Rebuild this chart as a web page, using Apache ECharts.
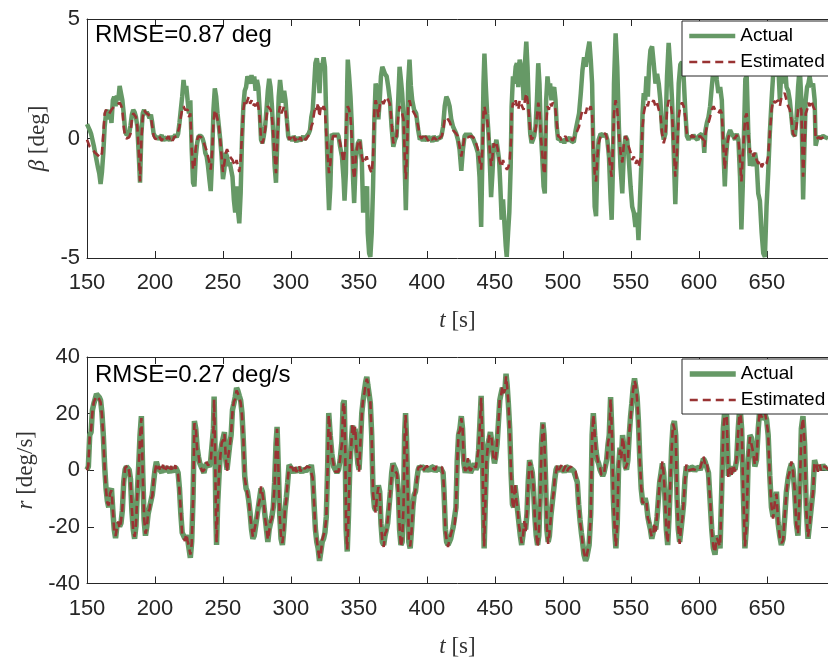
<!DOCTYPE html>
<html>
<head>
<meta charset="utf-8">
<script src="https://cdn.jsdelivr.net/npm/echarts@6/dist/echarts.min.js"></script>
<style>
html,body{margin:0;padding:0;background:#fff;}
#chart{width:828px;height:659px;}
</style>
</head>
<body>
<div id="chart"></div>
<script>
// ---------- data ----------
const xTickMin = 150, xTickMax = 695, xTickStep = 50;
const betaTicks = [-5, 0, 5];
const rTicks = [-40, -20, 0, 20, 40];
const seriesNames = ['Actual', 'Estimated'];
const rmseTexts = ['RMSE=0.87 deg', 'RMSE=0.27 deg/s'];

const betaActual = [[150,0.6],[151,0.55],[152,0.35],[153,0.2],[154,-0.05],[155,-0.3],[156,-0.6],[157,-0.9],[158,-1.2],[159,-1.45],[160,-1.9],[161,-1.4],[162,-0.6],[163,0.5],[164,1.05],[165,1.2],[166,0.8],[167,1.2],[168,0.65],[169,1.6],[170,1.75],[171,1.35],[172,1.8],[173,1.6],[174,2.2],[175,1.9],[176,1.6],[177,1.05],[178,0.35],[179,0.15],[180,0.1],[181,0.2],[182,0.55],[183,1.0],[184,1.2],[185,1.1],[186,0.9],[187,0.5],[188,-0.6],[189,-1.85],[190,0.2],[191,1.05],[192,1.2],[193,1.0],[194,1.1],[195,1.0],[196,0.85],[197,1.0],[198,0.65],[199,0.2],[200,0.1],[201,0.0],[202,0.1],[203,-0.05],[204,0.05],[205,0.15],[206,-0.1],[207,0.05],[208,0.1],[209,-0.05],[210,0.05],[211,-0.1],[212,0.1],[213,0.0],[214,-0.05],[215,0.15],[216,0.05],[217,0.2],[218,0.65],[219,1.2],[220,1.75],[221,2.45],[222,1.9],[223,2.2],[224,1.6],[225,1.05],[226,1.6],[227,-0.45],[228,-1.85],[229,-2.0],[230,-0.75],[231,-0.2],[232,0.1],[233,0.15],[234,0.1],[235,0.0],[236,-0.2],[237,-0.6],[238,-0.75],[239,-1.15],[240,-1.7],[241,-2.2],[242,-0.9],[243,1.2],[244,2.1],[245,1.75],[246,1.05],[247,0.5],[248,-0.05],[249,-0.75],[250,-1.7],[251,-1.3],[252,-0.6],[253,-0.75],[254,-1.15],[255,-1.0],[256,-1.3],[257,-1.6],[258,-2.55],[259,-3.1],[260,-2.0],[261,-3.0],[262,-3.55],[263,-2.3],[264,-0.05],[265,1.35],[266,2.0],[267,2.15],[268,2.6],[269,2.65],[270,2.3],[271,2.65],[272,2.3],[273,2.6],[274,2.0],[275,2.45],[276,2.15],[277,1.2],[278,-0.05],[279,-0.2],[280,0.1],[281,0.5],[282,1.2],[283,2.0],[284,2.5],[285,2.15],[286,1.35],[287,0.2],[288,-1.15],[289,-1.85],[290,-0.05],[291,1.75],[292,2.45],[293,1.9],[294,1.5],[295,2.0],[296,1.6],[297,0.8],[298,0.1],[299,-0.05],[300,0.05],[301,-0.1],[302,0.1],[303,0.0],[304,-0.15],[305,0.05],[306,0.1],[307,-0.1],[308,0.0],[309,0.1],[310,-0.05],[311,0.05],[312,0.0],[313,0.2],[314,0.35],[315,0.9],[316,1.2],[317,2.15],[318,3.15],[319,3.35],[320,3.0],[321,1.9],[322,3.15],[323,3.0],[324,3.4],[325,3.0],[326,0.8],[327,-1.45],[328,-3.0],[329,-2.0],[330,0.2],[331,0.1],[332,0.2],[333,0.1],[334,0.2],[335,0.1],[336.2,-0.35],[337.5,-0.75],[338.7,-1.7],[339.4,-2.6],[340.4,-1.45],[341.4,2.3],[341.8,3.3],[342.8,2.6],[343.8,1.75],[344.8,0.5],[345.7,-1.7],[346.5,-2.7],[347.7,-0.9],[349.2,-0.2],[350.6,-0.05],[352.1,-0.9],[353.1,-3.1],[354,-2.0],[355,-2.4],[356,-2.0],[356.5,-3.95],[357.5,-4.8],[358.4,-4.95],[359.4,-3.95],[360.4,-2.0],[361.4,0.9],[362.3,2.3],[363.3,2.05],[364.3,0.8],[365.3,1.6],[366.2,2.6],[367.2,3.0],[368.2,2.85],[369.2,2.7],[370.4,2.6],[371.6,2.15],[372.8,1.6],[374,0.5],[375.3,-0.35],[376.5,-0.05],[377.7,0.1],[378.9,1.6],[379.9,3.0],[380.9,2.45],[381.8,1.9],[382.8,0.9],[383.8,-1.45],[384.5,-3.0],[385.5,-0.5],[386.2,2.3],[387.2,3.3],[388.2,2.2],[389.2,1.6],[390.6,1.2],[392.1,1.05],[393.6,0.35],[394.8,-0.05],[396,0.05],[397,-0.1],[398,0.1],[399,0.0],[400,-0.1],[401,0.1],[402,-0.05],[403,0.05],[404,-0.15],[405,0.1],[406,0.0],[407,-0.1],[408,0.05],[409,0.1],[410,0.0],[411,0.2],[411.9,0.5],[413.1,1.35],[414.3,1.75],[415.5,1.6],[416.7,1.35],[417.9,0.8],[419.2,0.5],[420.4,0.35],[421.6,0.2],[422.8,-0.05],[424,-0.45],[425.3,-1.35],[426.5,-0.45],[427.7,0.1],[428.9,0.2],[430.1,0.1],[431.4,0.2],[432.6,0.1],[434,0.0],[435,-0.05],[436.2,-0.35],[437.5,-0.6],[438.7,-1.6],[439.9,-3.7],[440.9,-0.45],[441.6,2.3],[442.3,3.55],[443.3,2.2],[444.3,1.05],[445.3,0.2],[446.2,-0.9],[447.2,-2.45],[448.2,-1.45],[449.2,-0.2],[450.1,-0.35],[451.1,-0.05],[452.1,-0.45],[453.1,-0.9],[454,-2.0],[455,-3.4],[456,-2.55],[457,-3.55],[458,-4.5],[458.7,-4.95],[459.7,-3.95],[460.6,-3.1],[461.6,-1.2],[462.3,1.35],[463.3,2.6],[464.3,2.3],[465.3,3.0],[466.2,3.15],[467.2,2.15],[468.2,3.3],[469.2,3.0],[470.2,2.85],[471.1,1.6],[472.1,3.15],[473.1,4.05],[474,3.0],[475,1.2],[476,0.2],[477,-0.2],[478,-0.05],[478.9,0.1],[479.9,0.5],[480.9,1.6],[481.9,3.15],[482.8,2.3],[483.8,0.2],[484.8,-0.75],[485.8,-2.0],[486.7,-2.3],[487.7,1.6],[488.7,2.6],[489.7,2.0],[490.6,2.3],[491.6,1.6],[492.6,2.0],[493.6,2.15],[494.6,1.6],[495.5,0.5],[496.5,-0.05],[498,0.0],[499,-0.15],[500,-0.05],[501,-0.2],[502,0.0],[503,-0.1],[504,-0.15],[505,0.05],[506,-0.1],[507,-0.05],[508,-0.15],[509.4,0.35],[510.7,0.4],[511.9,1.05],[513.2,1.9],[514.4,2.85],[515.6,3.4],[516.8,3.0],[518,3.55],[519.5,4.05],[520.5,3.3],[521.5,2.3],[522.4,-0.5],[523.4,-2.85],[524.4,-3.25],[525.4,-0.9],[526.3,-0.05],[527.8,0.2],[529,0.2],[530.2,0.1],[531.5,0.2],[532.7,-0.05],[533.9,-0.75],[535.1,-2.55],[535.9,-3.4],[536.8,-1.2],[537.6,2.3],[538.8,4.4],[540,3.0],[541.2,0.5],[542.4,-1.2],[543.7,-2.3],[544.9,-0.5],[546.1,0.1],[547.3,-0.05],[548.5,-0.9],[549.8,-2.0],[551,-2.85],[552.2,-3.1],[553.4,-3.7],[554.6,-3.1],[555.6,-4.25],[556.6,-4.2],[557.6,-1.2],[558.6,1.05],[559.5,1.9],[560.5,1.6],[561.5,2.6],[562.5,1.75],[563.4,3.0],[564.4,3.7],[565.6,3.85],[566.8,3.15],[568.1,2.3],[569.3,2.7],[570.5,2.3],[571.7,1.6],[573,0.35],[574.2,-0.05],[575.4,0.2],[576.6,2.6],[577.8,4.0],[579,3.0],[580.3,1.6],[581.5,-0.5],[582.7,-2.75],[583.9,-0.5],[585.2,2.3],[586.4,3.1],[587.6,3.2],[588.8,2.6],[590,1.2],[591.2,0.1],[592.5,-0.05],[594,0.1],[595,0.0],[596,0.15],[597,0.05],[598,0.1],[599,-0.05],[600,0.1],[601,0.05],[602.2,0.2],[603.4,-0.05],[604,-0.6],[604.9,0.35],[605.9,0.65],[607.1,0.9],[608.3,1.35],[609.5,2.15],[610.8,2.9],[612,3.3],[613.2,2.45],[614.4,1.9],[615.7,2.15],[616.9,1.6],[618.1,-0.5],[619.1,-2.0],[620,-0.75],[621,-0.05],[622,0.2],[623,0.35],[624.2,0.2],[625.4,0.1],[626.6,-0.05],[627.9,0.2],[629.1,-0.05],[630.3,-1.6],[631.3,-3.8],[632.3,-2.0],[633.2,0.2],[634.2,2.5],[635.2,2.6],[636.4,0.2],[637.6,-1.15],[638.8,-0.75],[640.1,-1.15],[641.3,-0.6],[642.5,-1.0],[643.7,-2.3],[644.9,-2.6],[646.2,-3.95],[647.4,-4.8],[648.6,-4.95],[649.8,-2.85],[651,-1.45],[652.2,0.2],[653.5,1.6],[654.7,2.7],[655.9,3.3],[657.1,2.6],[658.4,3.1],[659.6,1.6],[660.8,3.0],[662,2.3],[663.2,3.2],[664.5,2.15],[665.7,2.0],[666.9,1.6],[668.1,0.9],[669.3,0.2],[670.6,0.1],[671.8,0.8],[673,2.15],[674.2,3.0],[675.4,1.6],[676.7,-2.55],[677.6,-0.45],[678.6,1.6],[679.6,2.15],[680.6,2.3],[681.5,2.6],[682.7,2.15],[684,2.3],[685.2,1.6],[685.9,-0.3],[686.9,-0.05],[688,0.1],[689,0.0],[690,0.05],[691.3,0.1],[693,0.05],[695,0.0]];

const betaEstimated = [[150,-0.05],[151,-0.2],[152,-0.35],[153,-0.4],[154,-0.45],[155,-0.5],[156,-0.6],[157,-0.65],[158,-0.7],[159,-0.75],[160,-0.8],[161,-0.6],[162,0.2],[163,1.05],[164,1.2],[165,1.1],[166,1.0],[167,1.1],[168,1.2],[169,1.25],[170,1.35],[171,1.3],[172,1.4],[173,1.35],[174,1.5],[175,1.4],[176,1.2],[177,0.5],[178,0.1],[179,0.0],[180,-0.05],[181,0.05],[182,0.2],[183,0.8],[184,1.05],[185,1.0],[186,0.9],[187,0.5],[188,-0.45],[189,-1.8],[190,-0.05],[191,0.9],[192,1.2],[193,1.1],[194,1.05],[195,1.0],[196,1.0],[197,0.9],[198,0.5],[199,0.1],[200,0.0],[201,0.05],[202,-0.05],[203,0.1],[204,0.0],[205,-0.1],[206,0.05],[207,0.1],[208,-0.05],[209,0.0],[210,0.1],[211,-0.05],[212,0.05],[213,-0.1],[214,0.05],[215,0.0],[216,0.1],[217,0.1],[218,0.5],[219,0.9],[220,1.2],[221,1.35],[222,1.2],[223,1.25],[224,1.2],[225,0.9],[226,1.05],[227,-0.45],[228,-1.3],[229,-1.15],[230,-0.35],[231,-0.05],[232,0.1],[233,0.1],[234,0.05],[235,0.1],[236,-0.2],[237,-0.35],[238,-0.5],[239,-0.75],[240,-1.0],[241,-1.3],[242,-0.6],[243,0.65],[244,1.2],[245,1.05],[246,0.8],[247,0.5],[248,-0.05],[249,-0.75],[250,-1.4],[251,-1.05],[252,-0.6],[253,-0.45],[254,-0.6],[255,-0.75],[256,-0.75],[257,-0.9],[258,-1.05],[259,-1.15],[260,-0.9],[261,-1.15],[262,-1.4],[263,-0.9],[264,0.2],[265,1.2],[266,1.6],[267,1.45],[268,1.6],[269,1.75],[270,1.45],[271,1.6],[272,1.35],[273,1.45],[274,1.35],[275,1.6],[276,1.35],[277,0.9],[278,-0.05],[279,-0.2],[280,0.0],[281,0.35],[282,0.9],[283,1.35],[284,1.35],[285,1.2],[286,0.9],[287,0.2],[288,-0.75],[289,-1.45],[290,-0.05],[291,1.05],[292,1.35],[293,1.05],[294,1.2],[295,1.35],[296,1.2],[297,0.65],[298,0.1],[299,-0.05],[300,0.05],[301,-0.05],[302,0.1],[303,-0.1],[304,0.0],[305,0.1],[306,-0.05],[307,0.05],[308,-0.1],[309,0.05],[310,0.1],[311,-0.05],[312,0.05],[313,0.1],[314,0.2],[315,0.5],[316,0.65],[317,1.05],[318,1.35],[319,1.2],[320,1.5],[321,0.9],[322,1.35],[323,1.2],[324,1.35],[325,1.2],[326,0.2],[327,-0.75],[328,-1.45],[329,-1.05],[330,-0.2],[331,0.1],[332,0.15],[333,0.1],[334,0.15],[335,0.1],[336.2,-0.2],[337.5,-0.6],[338.7,-1.0],[339.9,-0.35],[341.1,1.05],[341.8,1.35],[342.8,1.2],[343.8,0.9],[344.8,-0.05],[345.7,-1.3],[346.7,-1.7],[347.7,-0.75],[349.2,-0.2],[350.6,-0.05],[352.1,-0.75],[353.3,-1.05],[354.5,-0.9],[355.7,-0.75],[357,-1.05],[358.2,-1.3],[359.4,-1.45],[360.4,-0.75],[361.4,1.2],[362.3,1.6],[363.3,1.35],[364.3,0.9],[365.5,1.45],[366.7,1.6],[368,1.45],[369.2,1.6],[370.4,1.75],[371.6,1.6],[372.8,1.45],[374,0.65],[375.3,-0.2],[376.5,-0.05],[377.7,0.1],[378.9,0.9],[379.9,1.35],[380.9,1.2],[381.8,1.05],[382.8,0.8],[383.8,-0.9],[384.5,-1.7],[385.5,-0.35],[386.2,1.35],[387.2,1.6],[388.2,1.35],[389.2,1.2],[390.6,1.2],[392.1,0.9],[393.6,0.5],[394.8,0.1],[396,0.0],[397,0.1],[398,-0.05],[399,0.1],[400,0.05],[401,-0.1],[402,0.05],[403,0.1],[404,-0.05],[405,0.05],[406,0.1],[407,-0.05],[408,0.1],[409,0.0],[410,0.05],[411,0.1],[411.9,0.35],[413.1,0.8],[414.3,0.9],[415.5,0.85],[416.7,0.7],[417.9,0.5],[419.2,0.35],[420.4,0.3],[421.6,0.2],[422.8,0.1],[424,-0.35],[425.3,-0.75],[426.5,-0.35],[427.7,0.1],[428.9,0.1],[430.1,0.05],[431.4,0.1],[432.6,0.1],[434,0.05],[435,0.0],[436.2,-0.2],[437.5,-0.45],[438.7,-0.9],[439.9,-1.3],[440.9,-0.35],[441.6,1.05],[442.3,1.35],[443.3,1.05],[444.3,0.8],[445.3,0.2],[446.2,-0.45],[447.2,-1.15],[448.2,-0.75],[449.2,-0.2],[450.1,-0.35],[451.1,-0.2],[452.1,-0.45],[453.1,-0.9],[454,-1.05],[455,-1.2],[456,-0.9],[457,-1.1],[458,-1.2],[458.9,-1.3],[459.9,-1.2],[460.9,-0.9],[461.9,-0.05],[462.3,1.05],[463.3,1.5],[464.3,1.35],[465.3,1.6],[466.2,1.35],[467.2,1.2],[468.2,1.6],[469.2,1.45],[470.2,1.45],[471.1,1.2],[472.1,1.6],[473.1,1.9],[474,1.6],[475,1.05],[476,0.2],[477,-0.05],[478,0.05],[478.9,0.1],[479.9,0.35],[480.9,0.9],[481.9,1.5],[482.8,1.2],[483.8,0.1],[484.8,-0.6],[485.8,-1.3],[486.7,-1.5],[487.7,0.65],[488.7,1.35],[489.7,1.2],[490.6,1.5],[491.6,1.35],[492.6,1.5],[493.6,1.4],[494.6,1.2],[495.5,0.65],[496.5,0.1],[498,0.05],[499,-0.1],[500,0.0],[501,-0.05],[502,0.1],[503,-0.1],[504,0.0],[505,-0.05],[506,0.05],[507,-0.1],[508,0.0],[509.4,0.15],[510.7,0.2],[511.9,0.5],[513.2,0.9],[514.4,1.2],[515.6,1.2],[516.8,1.05],[518,1.35],[519.5,1.2],[520.5,1.35],[521.5,1.05],[522.4,-0.45],[523.4,-1.45],[524.4,-1.8],[525.4,-0.75],[526.3,-0.2],[527.8,0.1],[529,0.2],[530.2,0.15],[531.5,0.2],[532.7,-0.05],[533.9,-0.75],[535.1,-1.3],[535.9,-1.6],[536.8,-0.35],[537.6,1.05],[538.8,1.6],[540,1.2],[541.2,0.2],[542.4,-0.6],[543.7,-1.0],[544.9,-0.2],[546.1,0.1],[547.3,-0.05],[548.5,-0.35],[549.8,-0.6],[551,-0.9],[552.2,-0.75],[553.4,-1.05],[554.6,-0.9],[555.6,-1.2],[556.6,-1.2],[557.6,-0.75],[558.6,0.5],[559.5,1.05],[560.5,1.35],[561.5,1.5],[562.5,1.35],[563.4,1.6],[564.4,1.6],[565.6,1.5],[566.8,1.6],[568.1,1.35],[569.3,1.5],[570.5,1.2],[571.7,1.05],[573,0.2],[574.2,-0.2],[575.4,0.1],[576.6,1.2],[577.8,1.6],[579,1.5],[580.3,1.05],[581.5,-0.35],[582.7,-1.6],[583.9,-0.6],[585.2,0.9],[586.4,1.35],[587.6,1.5],[588.8,1.35],[590,0.9],[591.2,0.2],[592.5,0.1],[594,0.05],[595,0.15],[596,0.05],[597,0.1],[598,0.15],[599,0.05],[600,0.1],[601,0.1],[602.2,0.15],[603.4,-0.05],[604,-0.35],[604.9,0.2],[605.9,0.5],[607.1,0.65],[608.3,0.9],[609.5,1.2],[610.8,1.35],[612,1.2],[613.2,1.2],[614.4,1.05],[615.7,1.2],[616.9,1.05],[618.1,-0.35],[619.1,-1.3],[620,-0.6],[621,-0.2],[622,0.1],[623,0.15],[624.2,0.15],[625.4,0.1],[626.6,0.0],[627.9,0.15],[629.1,-0.05],[630.3,-0.9],[631.3,-1.8],[632.3,-0.75],[633.2,0.2],[634.2,0.9],[635.2,1.05],[636.4,0.2],[637.6,-0.6],[638.8,-0.45],[640.1,-0.75],[641.3,-0.6],[642.5,-0.9],[643.7,-1.05],[644.9,-0.9],[646.2,-1.2],[647.4,-1.05],[648.6,-1.15],[649.8,-1.05],[651,-0.75],[652.2,0.2],[653.5,1.2],[654.7,1.6],[655.9,1.5],[657.1,1.5],[658.4,1.6],[659.6,1.35],[660.8,1.75],[662,1.75],[663.2,1.9],[664.5,1.6],[665.7,1.35],[666.9,1.2],[668.1,0.8],[669.3,0.2],[670.6,0.1],[671.8,0.5],[673,1.2],[674.2,1.35],[675.4,1.2],[676.7,-1.6],[677.6,-0.45],[678.6,1.05],[679.6,1.2],[680.6,1.5],[681.5,1.35],[682.7,1.6],[684,1.35],[685.2,1.2],[685.9,-0.05],[686.9,-0.05],[688,0.05],[689,0.1],[690,0.0],[691.3,0.05],[693,0.1],[695,0.05]];

const rActual = [[150,0.2],[151,1.3],[152,12.4],[153,13.5],[154,21.3],[155,23.5],[156,25.2],[157,26.9],[158,27.4],[159,25.8],[160,24.7],[161,20.2],[162,12.4],[163,1.3],[164,-6.4],[165,-10.9],[166,-13.1],[167,-7.6],[168,-6.4],[169,-14.2],[170,-20.9],[171,-24.0],[172,-19.8],[173,-18.7],[174,-19.8],[175,-18.7],[176,-14.2],[177,-4.2],[178,0.2],[179,1.3],[180,1.3],[181,0.2],[182,-3.1],[183,-14.2],[184,-20.9],[185,-24.2],[186,-19.8],[187,-7.6],[188,1.3],[189,12.4],[190,19.1],[191,-0.9],[192,-17.6],[193,-23.1],[194,-19.8],[195,-15.3],[196,-13.1],[197,-10.9],[198,-8.7],[199,-4.2],[200,0.2],[201,3.0],[202,1.3],[203,0.5],[204,0.5],[205,-0.8],[206,1.2],[207,0.3],[208,-0.5],[209,1.0],[210,0.2],[211,-0.9],[212,0.8],[213,0.4],[214,-0.6],[215,1.1],[216,0.3],[217,-0.9],[218,-6.4],[219,-15.3],[220,-22.0],[221,-23.1],[222,-24.2],[223,-23.1],[224,-24.2],[225,-27.6],[226,-30.9],[227,-25.3],[228,-9.8],[229,17.4],[230,14.7],[231,8.0],[232,4.7],[233,2.4],[234,1.3],[235,0.2],[236,-0.9],[237,1.3],[238,2.4],[239,2.4],[240,1.3],[241,3.6],[242,9.1],[243,14.7],[243.5,26.0],[244.2,6.9],[244.8,-16.4],[245.3,-26.4],[246.1,-12.0],[247.1,-2.0],[248.1,5.8],[249.1,9.1],[250.1,11.3],[251.1,13.5],[252.1,3.6],[253,0.2],[254,4.7],[255,9.1],[256,12.4],[257,21.3],[258,23.5],[259,25.8],[260,29.1],[261,28.0],[262,26.3],[263,24.7],[264,20.2],[265,10.2],[266,-2.0],[267,-6.4],[268,-7.6],[269,-10.9],[270,-15.3],[271,-20.9],[272,-24.2],[273,-23.1],[274,-19.8],[275,-16.4],[276,-13.1],[277,-9.8],[278,-6.4],[279,-7.6],[280,-12.0],[281,-16.4],[282,-20.9],[283,-25.3],[284,-20.9],[285,-18.7],[286,-16.4],[287,-13.1],[288,-4.2],[289,9.1],[289.8,15.3],[290.7,1.3],[291.7,-15.3],[292.7,-24.2],[293.7,-26.4],[294.7,-20.9],[295.6,-14.2],[296.6,-9.8],[297.6,-4.2],[298.6,1.9],[300,1.3],[301,0.2],[302,-1.0],[303,0.8],[304,0.1],[305,-0.7],[306,1.0],[307,0.3],[308,-0.9],[309,0.6],[310,1.2],[311,-0.4],[312,0.5],[313,1.4],[314,0.2],[315,1.9],[316,-2.0],[317,-12.0],[318,-20.9],[319,-25.3],[320,-27.6],[321,-32.0],[322,-28.7],[323,-25.3],[324,-24.2],[325,-22.0],[326,-16.4],[327,1.3],[327.8,20.2],[328.9,12.4],[330.1,5.8],[331.4,1.3],[332.6,0.2],[333.8,-0.9],[335,0.2],[336.2,3.6],[337.5,10.2],[338.4,23.6],[339.2,24.7],[339.9,6.9],[340.6,-20.9],[341.4,-28.7],[342.3,-16.4],[343.3,1.3],[344.3,9.1],[345.3,15.8],[346.2,12.4],[347.2,14.7],[348.2,8.0],[349.2,2.4],[350.1,0.2],[351.1,9.1],[352.1,20.2],[353.1,24.7],[354,28.0],[355,31.3],[355.8,33.0],[356.5,30.2],[357.5,26.9],[358.4,23.6],[359.4,12.4],[360.4,-7.6],[361.4,-13.1],[362.3,-14.2],[363.3,-9.8],[364.3,-5.3],[365.3,-7.6],[366.2,-18.7],[367.2,-25.3],[368.2,-26.4],[369.2,-23.1],[370.2,-20.9],[371.1,-18.7],[372.1,-13.1],[373.1,-7.6],[374.1,-0.9],[375,2.4],[376,1.3],[377,0.2],[378,-2.0],[379,-7.6],[379.9,-20.9],[380.9,-26.4],[381.8,-25.3],[382.8,-12.0],[383.6,12.4],[384.3,20.2],[385,11.3],[385.8,-4.2],[386.7,-25.3],[387.7,-27.6],[388.7,-20.9],[389.7,-13.1],[390.6,-8.7],[391.6,-7.6],[392.6,-3.1],[393.6,0.2],[394.5,1.3],[396,0.8],[397,0.3],[398,1.2],[399,-0.5],[400,0.8],[401,1.5],[402,-0.2],[403,0.9],[404,0.2],[405,1.3],[406,-0.6],[407,0.7],[408,1.4],[409,0.1],[410,0.9],[411,0.5],[411.9,-0.9],[412.6,-7.6],[413.6,-20.9],[414.5,-25.3],[415.5,-26.4],[416.5,-25.3],[417.5,-24.2],[418.4,-22.0],[419.4,-19.8],[420.4,-19.8],[421.4,-13.1],[422.3,3.6],[423.3,12.4],[424.3,14.7],[425.3,19.1],[426.2,14.7],[427.2,2.4],[428.2,-0.9],[429.2,1.3],[430.1,3.6],[431.1,1.3],[432.1,-0.9],[433.1,0.2],[434.1,1.3],[435,2.4],[436,0.2],[437,1.3],[438,6.9],[439,16.9],[439.9,26.3],[440.6,12.4],[441.4,-9.8],[442.1,-27.6],[442.8,-14.2],[443.8,2.4],[444.8,9.1],[445.8,11.3],[446.7,13.5],[447.7,10.2],[448.7,5.8],[449.7,2.4],[450.6,4.7],[451.6,9.1],[452.6,16.9],[453.6,24.7],[454.5,26.9],[455.5,29.1],[456.5,28.0],[457.5,29.1],[458.2,34.1],[459,30.2],[459.9,23.6],[460.9,14.7],[461.9,-0.9],[462.9,-12.0],[463.8,-13.1],[464.8,-5.3],[465.8,-9.8],[466.7,-14.2],[467.7,-18.7],[468.7,-23.1],[469.7,-26.4],[470.6,-23.1],[471.6,-18.7],[472.6,-20.9],[473.6,-15.3],[474.5,-4.2],[475.5,3.6],[476.5,1.3],[477.5,-0.9],[478.4,-6.4],[479.4,-16.4],[480.4,-23.1],[481.4,-26.4],[482.3,-23.1],[483.3,-9.8],[484.3,9.1],[485.3,16.9],[486.2,12.4],[487.2,-2.0],[488.2,-20.9],[489.2,-25.3],[490.1,-23.1],[491.1,-16.4],[492.1,-12.0],[493.1,-7.6],[494.1,-3.1],[495,0.2],[496,1.3],[497,0.8],[498,-0.4],[499,1.1],[500,0.3],[501,-0.8],[502,0.9],[503,0.2],[504,1.2],[505,-0.5],[506,0.6],[507,1.0],[508,-0.2],[509.4,0.2],[510.6,-4.2],[511.6,-12.0],[512.6,-17.6],[513.6,-22.0],[514.5,-25.3],[515.5,-29.8],[516.7,-32.0],[517.5,-31.0],[518,-29.8],[519.3,-26.4],[520.5,-15.3],[521.5,12.4],[522.4,20.2],[523.4,12.4],[524.4,6.9],[525.4,3.6],[526.3,2.4],[527.3,0.2],[528.3,-0.9],[529.3,-2.0],[530.2,-0.9],[531.2,1.3],[532.2,3.6],[533.2,9.1],[534.1,12.4],[535.1,25.8],[536.1,12.4],[537.1,-9.8],[538.1,-20.9],[539,-27.6],[540,-18.7],[541,1.3],[542,8.0],[543,3.6],[543.9,12.4],[544.9,8.0],[545.9,1.3],[546.8,0.2],[547.8,3.6],[548.8,12.4],[549.8,19.1],[550.7,23.6],[551.7,29.1],[552.7,32.4],[553.7,29.1],[554.6,25.8],[555.6,16.9],[556.6,3.6],[557.6,-6.4],[558.6,-10.9],[559.5,-12.0],[560.5,-9.8],[561.5,-12.0],[562.5,-16.4],[563.4,-18.7],[564.4,-20.9],[565.4,-24.2],[566.4,-22.0],[567.3,-19.8],[568.3,-20.9],[569.3,-16.4],[570.3,-9.8],[571.2,-4.2],[572.2,-0.9],[573.2,2.4],[574.2,-0.9],[575.1,-9.8],[576.1,-20.9],[577.1,-26.4],[578.1,-16.4],[579.1,-4.2],[580,8.0],[581,15.8],[582,17.4],[583,12.4],[584,-9.8],[584.9,-20.9],[585.9,-25.3],[586.9,-20.9],[587.9,-16.4],[588.8,-12.0],[589.8,-3.1],[590.8,1.3],[592,0.6],[593,-0.3],[594,0.9],[595,0.2],[596,1.1],[597,-0.4],[598,0.7],[599,0.3],[600,1.0],[601,0.1],[602.2,1.8],[603.4,4.1],[604.6,3.0],[605.8,2.4],[607.1,-0.9],[608.3,-10.9],[609.5,-20.9],[610.7,-27.6],[611.9,-29.8],[613.2,-23.1],[614.4,-24.2],[615.6,-27.6],[616.8,-7.6],[618,14.7],[619.3,22.5],[620.5,19.1],[621.7,-2.0],[622.9,0.2],[624.1,-0.9],[625.4,1.3],[626.6,0.2],[627.8,3.6],[629,14.7],[630.2,23.0],[631.5,14.7],[632.7,-7.6],[633.9,-27.6],[635.1,-18.7],[636.3,3.6],[637.6,12.4],[638.8,11.3],[640,6.9],[641.2,1.3],[642.4,3.6],[643.7,14.7],[644.9,22.0],[646.1,18.0],[647.3,19.0],[648.5,20.0],[649.8,18.0],[651,12.4],[652.2,-2.0],[653.4,-13.1],[654.6,-16.4],[655.9,-12.0],[657.1,-7.6],[658.3,-18.7],[659.5,-23.1],[660.7,-26.4],[662,-24.2],[663.2,-16.4],[664.4,-7.6],[665.6,-3.1],[666.8,0.2],[668.1,2.4],[669.3,0.2],[670.5,-7.6],[671.7,-18.7],[672.9,-23.1],[674.2,-7.6],[675.4,14.7],[676.6,19.1],[677.8,9.1],[679,-13.1],[680.3,-24.2],[681.5,-18.7],[682.7,-13.1],[683.9,-7.6],[685.1,3.6],[686.4,1.3],[687.6,0.2],[688.8,1.3],[690,0.4],[691.2,1.8],[693,0.6],[695,1.0]];

const rEstimated = [[150,0.0],[151,1.8],[152,11.8],[153,14.2],[154,20.6],[155,24.1],[156,24.6],[157,26.2],[158,26.5],[159,25.1],[160,24.0],[161,19.5],[162,11.6],[163,0.6],[164,-7.0],[165,-11.5],[166,-12.4],[167,-8.2],[168,-7.1],[169,-13.6],[170,-21.5],[171,-23.2],[172,-20.4],[173,-18.1],[174,-20.5],[175,-18.0],[176,-13.6],[177,-4.8],[178,0.8],[179,0.6],[180,1.8],[181,-0.4],[182,-3.8],[183,-13.5],[184,-21.6],[185,-23.5],[186,-19.1],[187,-8.3],[188,0.7],[189,11.8],[190,18.4],[191,-1.5],[192,-16.9],[193,-22.4],[194,-20.5],[195,-14.6],[196,-13.8],[197,-10.2],[198,-9.3],[199,-3.6],[200,-0.5],[201,2.3],[202,0.6],[203,1.4],[204,-0.4],[205,0.3],[206,1.9],[207,-0.6],[208,0.4],[209,1.6],[210,-0.5],[211,-0.1],[212,1.5],[213,-0.5],[214,0.3],[215,1.8],[216,-0.4],[217,-1.5],[218,-7.0],[219,-14.6],[220,-22.7],[221,-22.4],[222,-25.0],[223,-22.5],[224,-25.0],[225,-26.9],[226,-29.8],[227,-26.0],[228,-10.5],[229,16.6],[230,15.3],[231,7.3],[232,5.4],[233,1.7],[234,2.0],[235,-0.5],[236,-0.2],[237,0.6],[238,3.0],[239,1.7],[240,2.0],[241,2.9],[242,9.8],[243,14.0],[243.5,25.0],[244.2,7.6],[244.8,-15.7],[245.3,-25.5],[246.1,-12.7],[247.1,-1.3],[248.1,5.1],[249.1,9.8],[250.1,10.6],[251.1,12.8],[252.1,4.3],[253,-0.5],[254,5.4],[255,8.4],[256,13.1],[257,20.6],[258,24.2],[259,25.1],[260,28.2],[261,27.1],[262,27.0],[263,24.0],[264,19.5],[265,10.9],[266,-2.7],[267,-5.7],[268,-8.3],[269,-10.2],[270,-16.0],[271,-20.2],[272,-23.5],[273,-23.8],[274,-19.1],[275,-17.1],[276,-12.4],[277,-10.5],[278,-5.7],[279,-8.3],[280,-11.3],[281,-17.1],[282,-20.2],[283,-24.6],[284,-21.6],[285,-18.0],[286,-17.1],[287,-12.4],[288,-4.9],[289,8.4],[289.8,14.6],[290.7,2.0],[291.7,-16.0],[292.7,-23.5],[293.7,-25.7],[294.7,-21.6],[295.6,-13.5],[296.6,-10.5],[297.6,-3.5],[298.6,1.2],[300,0.6],[301,1.0],[302,-0.3],[303,1.5],[304,-0.6],[305,0.2],[306,1.7],[307,-0.4],[308,-0.2],[309,1.4],[310,0.5],[311,0.4],[312,1.3],[313,0.7],[314,0.9],[315,1.2],[316,-2.7],[317,-11.3],[318,-21.6],[319,-24.6],[320,-28.3],[321,-31.1],[322,-29.4],[323,-24.6],[324,-24.9],[325,-21.3],[326,-17.1],[327,0.6],[327.8,19.5],[328.9,13.1],[330.1,5.1],[331.4,2.0],[332.6,-0.5],[333.8,-0.2],[335,-0.5],[336.2,4.3],[337.5,9.5],[338.4,22.9],[339.2,24.0],[339.9,7.6],[340.6,-20.2],[341.4,-28.0],[342.3,-17.1],[343.3,2.0],[344.3,8.4],[345.3,16.5],[346.2,11.7],[347.2,15.4],[348.2,7.3],[349.2,3.1],[350.1,-0.5],[351.1,9.8],[352.1,19.5],[353.1,25.4],[354,27.3],[355,30.6],[355.8,32.3],[356.5,30.9],[357.5,26.2],[358.4,24.3],[359.4,11.7],[360.4,-8.3],[361.4,-12.4],[362.3,-14.9],[363.3,-9.1],[364.3,-6.0],[365.3,-6.9],[366.2,-19.4],[367.2,-24.6],[368.2,-27.1],[369.2,-22.4],[370.2,-21.6],[371.1,-18.0],[372.1,-13.8],[373.1,-6.9],[374.1,-1.6],[375,1.7],[376,2.0],[377,-0.5],[378,-1.3],[379,-8.3],[379.9,-20.2],[380.9,-27.1],[381.8,-24.6],[382.8,-12.7],[383.6,11.7],[384.3,19.5],[385,12.0],[385.8,-4.9],[386.7,-24.6],[387.7,-26.9],[388.7,-21.6],[389.7,-12.4],[390.6,-9.4],[391.6,-6.9],[392.6,-3.8],[393.6,0.9],[394.5,0.6],[396,1.5],[397,-0.4],[398,0.5],[399,0.2],[400,1.5],[401,0.8],[402,0.5],[403,0.2],[404,0.9],[405,0.6],[406,0.1],[407,1.4],[408,0.7],[409,0.8],[410,0.2],[411,1.2],[411.9,-1.6],[412.6,-6.9],[413.6,-21.6],[414.5,-24.6],[415.5,-27.1],[416.5,-24.6],[417.5,-24.9],[418.4,-21.3],[419.4,-20.5],[420.4,-19.1],[421.4,-13.8],[422.3,2.9],[423.3,13.1],[424.3,14.0],[425.3,18.4],[426.2,15.4],[427.2,1.7],[428.2,-0.2],[429.2,0.6],[430.1,4.3],[431.1,0.6],[432.1,-0.2],[433.1,-0.5],[434.1,2.0],[435,1.7],[436,0.9],[437,0.6],[438,7.6],[439,16.2],[439.9,25.6],[440.6,13.1],[441.4,-10.5],[442.1,-26.9],[442.8,-14.9],[443.8,3.1],[444.8,8.4],[445.8,12.0],[446.7,12.8],[447.7,10.9],[448.7,5.1],[449.7,3.1],[450.6,4.0],[451.6,9.8],[452.6,16.2],[453.6,25.4],[454.5,26.2],[455.5,29.8],[456.5,27.3],[457.5,28.4],[458.2,33.2],[459,29.5],[459.9,24.3],[460.9,14.0],[461.9,-1.6],[462.9,-11.3],[463.8,-13.8],[464.8,-4.6],[465.8,-10.5],[466.7,-13.5],[467.7,-19.4],[468.7,-22.4],[469.7,-25.7],[470.6,-23.8],[471.6,-18.0],[472.6,-21.6],[473.6,-14.6],[474.5,-4.9],[475.5,2.9],[476.5,2.0],[477.5,-1.6],[478.4,-5.7],[479.4,-17.1],[480.4,-22.4],[481.4,-27.1],[482.3,-22.4],[483.3,-10.5],[484.3,8.4],[485.3,16.2],[486.2,13.1],[487.2,-2.7],[488.2,-20.2],[489.2,-26.0],[490.1,-22.4],[491.1,-17.1],[492.1,-11.3],[493.1,-8.3],[494.1,-2.4],[495,-0.5],[496,2.0],[497,0.1],[498,0.3],[499,1.8],[500,-0.4],[501,-0.1],[502,1.6],[503,-0.5],[504,0.5],[505,0.2],[506,1.3],[507,0.3],[508,0.5],[509.4,-0.5],[510.6,-4.9],[511.6,-11.3],[512.6,-18.3],[513.6,-21.3],[514.5,-26.0],[515.5,-29.1],[516.7,-31.3],[517.5,-30.3],[518,-30.5],[519.3,-25.7],[520.5,-16.0],[521.5,11.7],[522.4,19.5],[523.4,13.1],[524.4,6.2],[525.4,4.3],[526.3,1.7],[527.3,0.9],[528.3,-1.6],[529.3,-1.3],[530.2,-1.6],[531.2,2.0],[532.2,2.9],[533.2,9.8],[534.1,11.7],[535.1,25.1],[536.1,13.1],[537.1,-10.5],[538.1,-20.2],[539,-26.9],[540,-19.4],[541,2.0],[542,7.3],[543,4.3],[543.9,11.7],[544.9,8.7],[545.9,0.6],[546.8,0.9],[547.8,2.9],[548.8,13.1],[549.8,18.4],[550.7,24.3],[551.7,28.4],[552.7,31.7],[553.7,29.8],[554.6,25.1],[555.6,17.6],[556.6,2.9],[557.6,-5.7],[558.6,-11.6],[559.5,-11.3],[560.5,-10.5],[561.5,-11.3],[562.5,-17.1],[563.4,-18.0],[564.4,-21.6],[565.4,-23.5],[566.4,-22.7],[567.3,-19.1],[568.3,-21.6],[569.3,-15.7],[570.3,-10.5],[571.2,-3.5],[572.2,-1.6],[573.2,3.1],[574.2,-1.6],[575.1,-9.1],[576.1,-21.6],[577.1,-25.7],[578.1,-17.1],[579.1,-3.5],[580,7.3],[581,16.5],[582,16.7],[583,13.1],[584,-10.5],[584.9,-20.2],[585.9,-26.0],[586.9,-20.2],[587.9,-17.1],[588.8,-11.3],[589.8,-3.8],[590.8,2.0],[592,-0.1],[593,0.4],[594,0.2],[595,0.9],[596,0.4],[597,0.3],[598,0.0],[599,1.0],[600,0.3],[601,0.8],[602.2,1.1],[603.4,4.8],[604.6,2.3],[605.8,3.1],[607.1,-1.6],[608.3,-10.2],[609.5,-21.6],[610.7,-26.9],[611.9,-29.1],[613.2,-23.8],[614.4,-23.5],[615.6,-26.9],[616.8,-8.3],[618,14.0],[619.3,21.8],[620.5,19.8],[621.7,-2.7],[622.9,0.9],[624.1,-1.6],[625.4,2.0],[626.6,-0.5],[627.8,4.3],[629,14.0],[630.2,22.3],[631.5,15.4],[632.7,-8.3],[633.9,-26.9],[635.1,-19.4],[636.3,4.3],[637.6,11.7],[638.8,12.0],[640,6.2],[641.2,2.0],[642.4,2.9],[643.7,15.4],[644.9,21.3],[646.1,18.7],[647.3,18.3],[648.5,20.7],[649.8,17.3],[651,13.1],[652.2,-2.7],[653.4,-12.4],[654.6,-17.1],[655.9,-11.3],[657.1,-8.3],[658.3,-18.0],[659.5,-23.8],[660.7,-25.7],[662,-24.9],[663.2,-15.7],[664.4,-8.3],[665.6,-2.4],[666.8,-0.5],[668.1,3.1],[669.3,-0.5],[670.5,-6.9],[671.7,-19.4],[672.9,-22.4],[674.2,-8.3],[675.4,14.0],[676.6,18.4],[677.8,9.8],[679,-13.8],[680.3,-23.5],[681.5,-19.4],[682.7,-12.4],[683.9,-8.3],[685.1,2.9],[686.4,2.0],[687.6,-0.5],[688.8,2.0],[690,-0.3],[691.2,1.1],[693,1.3],[695,0.3]];

// ---------- styling ----------
const AX = '#262626';
const GREEN = '#669966';
const RED = '#993333';
const SANS = 'Liberation Sans, Arial, sans-serif';
const SERIF = 'Liberation Serif, DejaVu Serif, serif';

const grids = [
  {left: 87, top: 19, width: 744, height: 239},
  {left: 87, top: 357, width: 744, height: 240}
];

const nameRich = {
  i: {fontFamily: SERIF, fontStyle: 'italic', fontSize: 23, color: '#333', lineHeight: 26},
  n: {fontFamily: SERIF, fontSize: 23, color: '#333', lineHeight: 26}
};

function bottomX(gi) {
  return {
    type: 'value', gridIndex: gi, position: 'bottom',
    min: xTickMin, max: xTickMax, interval: xTickStep,
    axisLine: {show: true, onZero: false, lineStyle: {color: AX, width: 1}},
    axisTick: {show: true, inside: true, length: 7, lineStyle: {color: AX}},
    axisLabel: {show: true, color: AX, fontSize: 22, fontFamily: SANS, margin: 14, showMaxLabel: false},
    splitLine: {show: false},
    name: '{i|t}{n| [s]}', nameLocation: 'middle', nameGap: 50,
    nameTextStyle: {rich: nameRich}
  };
}
function topX(gi) {
  return {
    type: 'value', gridIndex: gi, position: 'top',
    min: xTickMin, max: xTickMax, interval: xTickStep,
    axisLine: {show: true, onZero: false, lineStyle: {color: AX, width: 1}},
    axisTick: {show: true, inside: true, length: 7, lineStyle: {color: AX}},
    axisLabel: {show: false},
    splitLine: {show: false}
  };
}
function leftY(gi, ticks, sym, unit, gap) {
  return {
    type: 'value', gridIndex: gi,
    min: ticks[0], max: ticks[ticks.length - 1], interval: ticks[1] - ticks[0],
    axisLine: {show: true, onZero: false, lineStyle: {color: AX, width: 1}},
    axisTick: {show: true, inside: true, length: 7, lineStyle: {color: AX}},
    axisLabel: {show: true, color: AX, fontSize: 22, fontFamily: SANS, margin: 7},
    splitLine: {show: false},
    name: '{i|' + sym + '}{n| [' + unit + ']}', nameLocation: 'middle', nameGap: gap,
    nameTextStyle: {rich: nameRich}
  };
}
function rightY(gi, ticks) {
  return {
    type: 'value', gridIndex: gi, position: 'right',
    min: ticks[0], max: ticks[ticks.length - 1], interval: ticks[1] - ticks[0],
    axisLine: {show: true, onZero: false, lineStyle: {color: AX, width: 1}},
    axisTick: {show: true, inside: true, length: 7, lineStyle: {color: AX}},
    axisLabel: {show: false}, splitLine: {show: false}
  };
}

function lineSeries(name, data, xi, yi, isEst, w) {
  return {
    type: 'line', name: name, data: data, xAxisIndex: xi, yAxisIndex: yi,
    symbol: 'none', showSymbol: false, animation: false, z: isEst ? 3 : 2,
    lineStyle: isEst ? {color: RED, width: 2.6, type: [8, 5]} : {color: GREEN, width: w},
    itemStyle: {color: isEst ? RED : GREEN}
  };
}

function legendAt(top, greenW) {
  return {
    show: true, orient: 'vertical', left: 682, top: top,
    data: [
      {name: seriesNames[0], itemStyle: {opacity: 0}, lineStyle: {color: GREEN, width: greenW, type: 'solid'}},
      {name: seriesNames[1], itemStyle: {opacity: 0}, lineStyle: {color: RED, width: 2.6, type: [8, 5]}}
    ],
    itemStyle: {opacity: 0},
    padding: [5, 24, 4, 5], itemGap: 6, itemWidth: 46, itemHeight: 14,
    backgroundColor: '#fff', borderColor: AX, borderWidth: 1, borderRadius: 0,
    selectedMode: false,
    textStyle: {fontFamily: SANS, fontSize: 19, color: '#000', lineHeight: 20}
  };
}

const chart = echarts.init(document.getElementById('chart'), null, {renderer: 'canvas'});
chart.setOption({
  animation: false,
  backgroundColor: '#fff',
  grid: grids,
  xAxis: [bottomX(0), topX(0), bottomX(1), topX(1)],
  yAxis: [leftY(0, betaTicks, 'β', 'deg', 35), leftY(1, rTicks, 'r', 'deg/s', 44), rightY(0, betaTicks), rightY(1, rTicks)],
  legend: [legendAt(21, 4.5), legendAt(359, 5.5)],
  series: [
    lineSeries(seriesNames[0], betaActual, 0, 0, false, 4.5),
    lineSeries(seriesNames[1], betaEstimated, 0, 0, true),
    lineSeries(seriesNames[0], rActual, 2, 1, false, 5.5),
    lineSeries(seriesNames[1], rEstimated, 2, 1, true)
  ],
  graphic: [
    {type: 'text', x: 95, y: 35, z: 10, style: {text: rmseTexts[0], fontSize: 24, fontFamily: SANS, fill: '#000', align: 'left', verticalAlign: 'middle'}},
    {type: 'text', x: 95, y: 375, z: 10, style: {text: rmseTexts[1], fontSize: 24, fontFamily: SANS, fill: '#000', align: 'left', verticalAlign: 'middle'}}
  ]
});
</script>
</body>
</html>
